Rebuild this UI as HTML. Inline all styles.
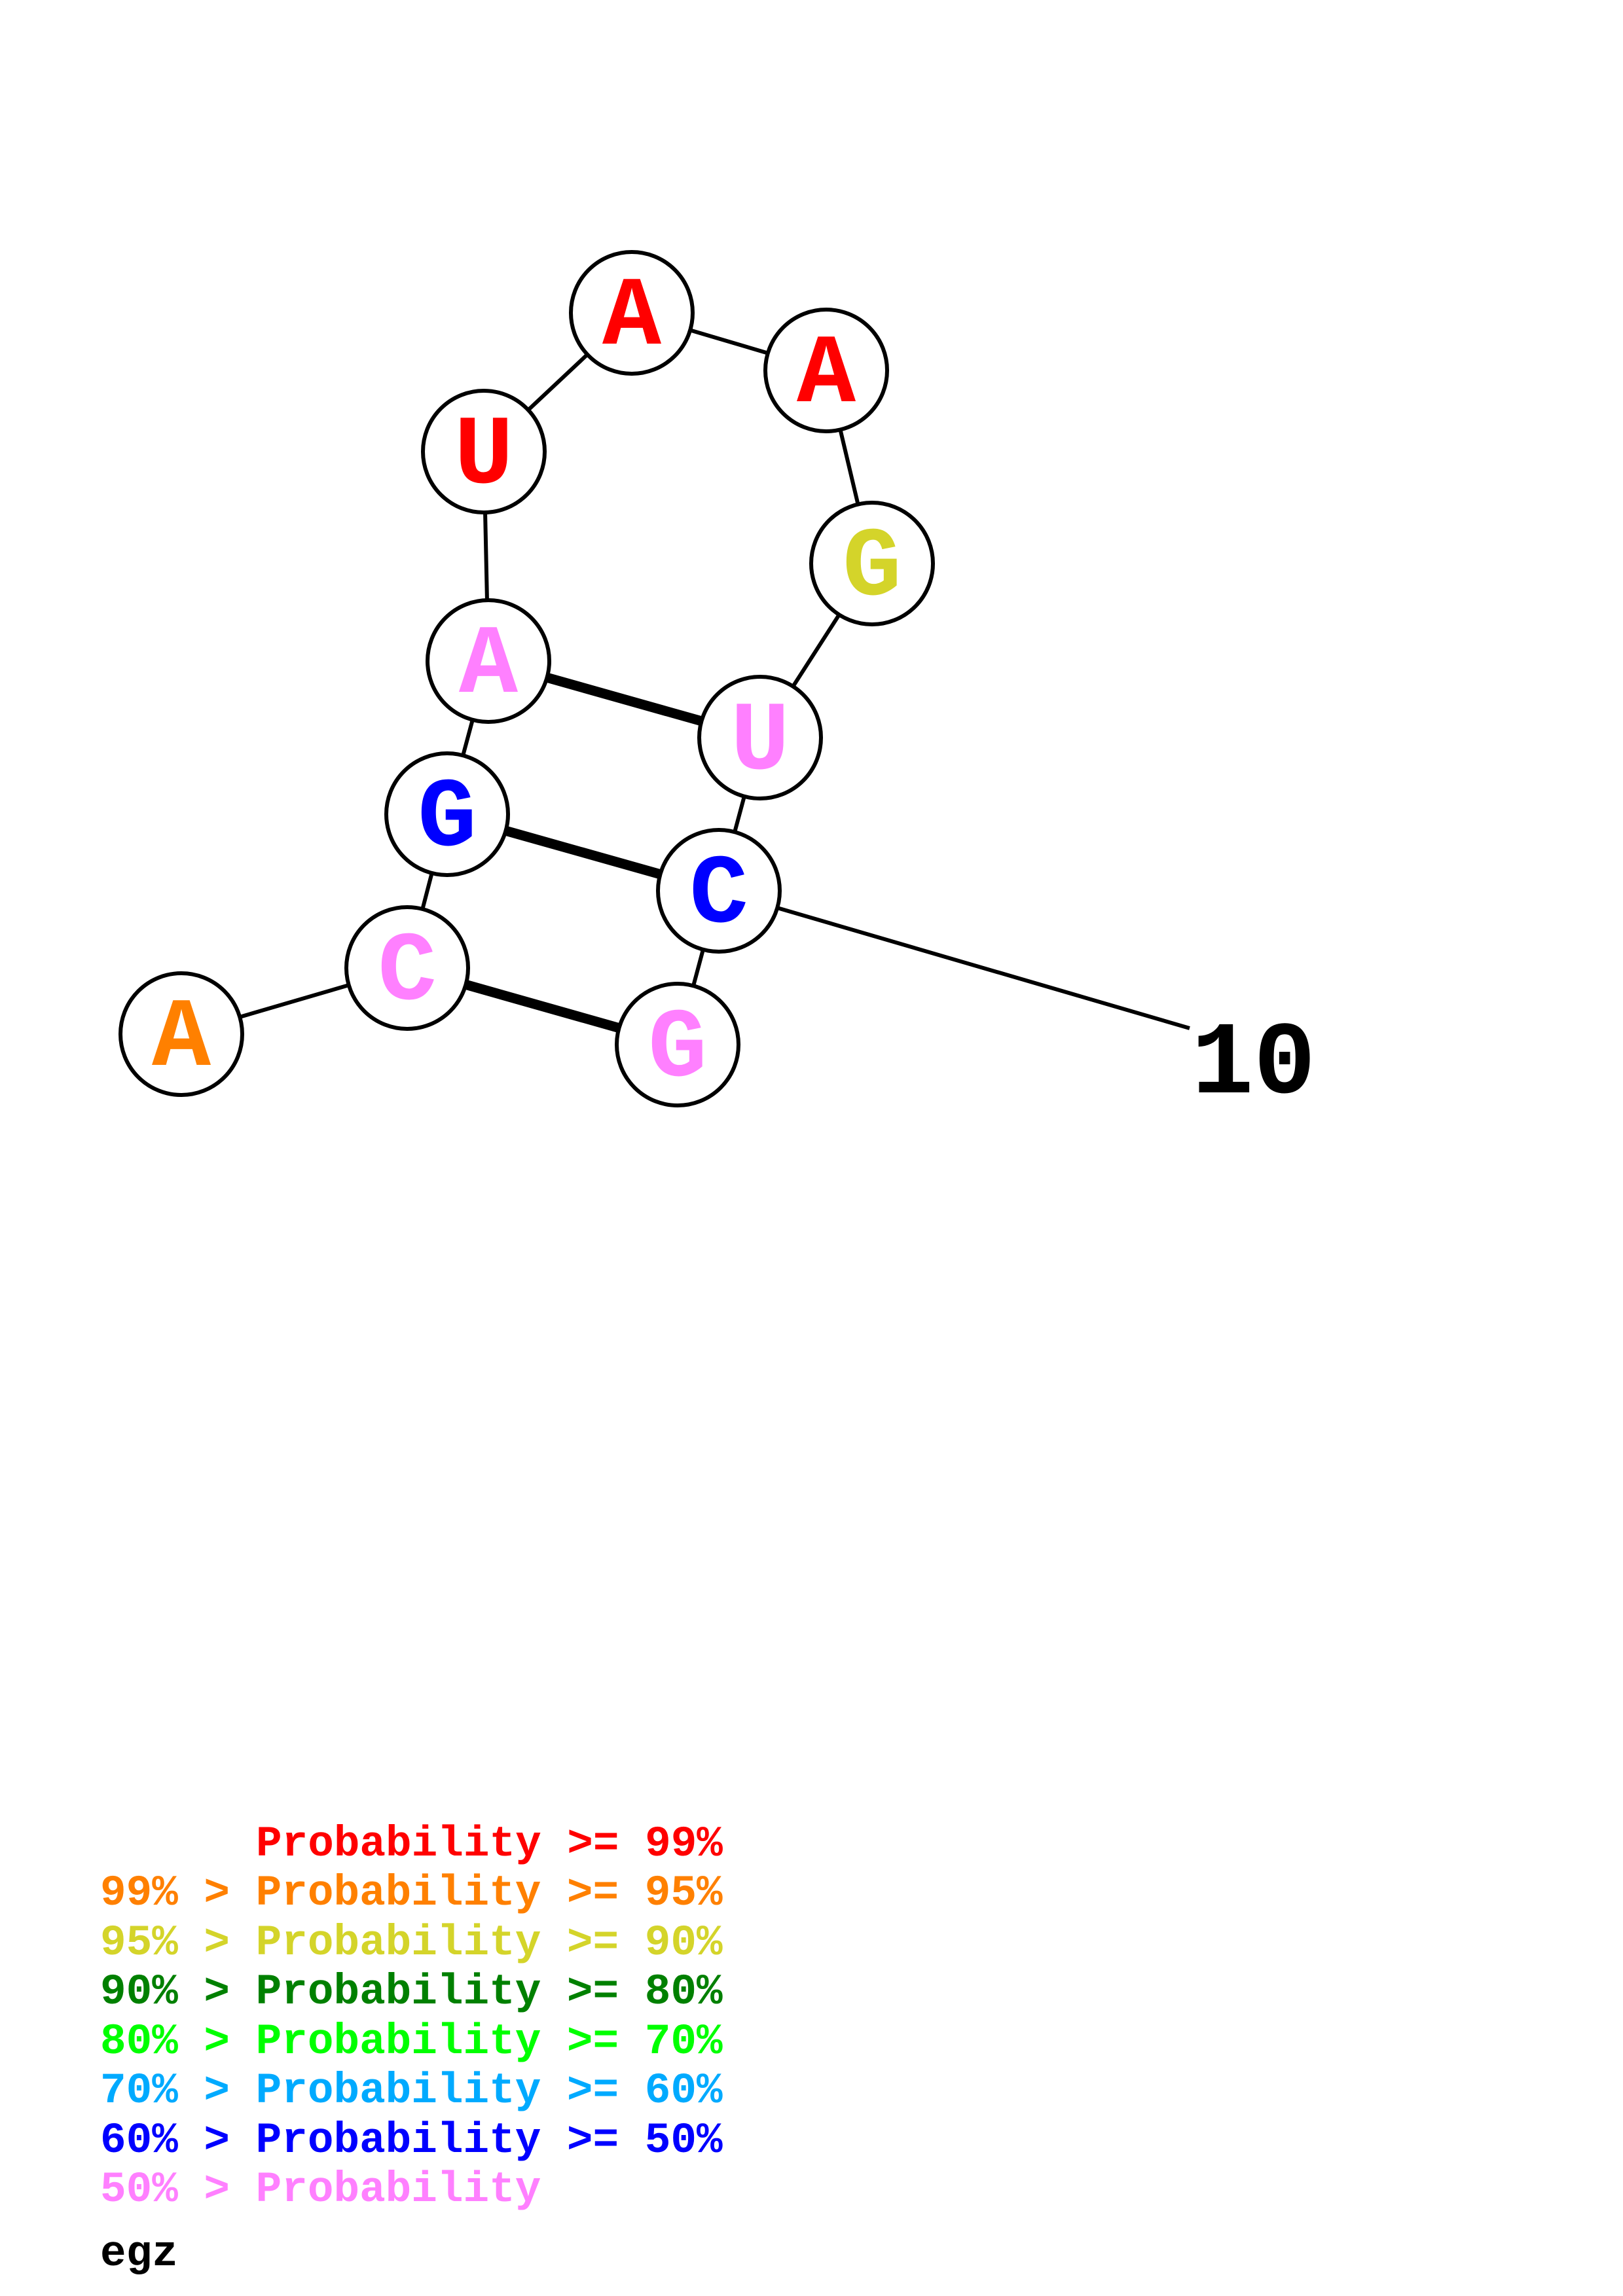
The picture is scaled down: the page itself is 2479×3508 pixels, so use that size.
<!DOCTYPE html>
<html><head><meta charset="utf-8"><style>html,body{margin:0;padding:0;background:#fff}svg{display:block}</style></head>
<body>
<svg width="2479" height="3508" viewBox="0 0 2479 3508" xmlns="http://www.w3.org/2000/svg">
<g transform="translate(-2,-11)">
<g stroke="#000" stroke-width="6">
<line x1="279" y1="1591" x2="624" y2="1490"/>
<line x1="624" y1="1490" x2="685" y2="1255"/>
<line x1="685" y1="1255" x2="748" y2="1021"/>
<line x1="748" y1="1021" x2="741" y2="701"/>
<line x1="741" y1="701" x2="967" y2="489"/>
<line x1="967" y1="489" x2="1264" y2="577"/>
<line x1="1264" y1="577" x2="1334" y2="872"/>
<line x1="1334" y1="872" x2="1163" y2="1138"/>
<line x1="1163" y1="1138" x2="1100" y2="1372"/>
<line x1="1100" y1="1372" x2="1037" y2="1607"/>
<line x1="1100" y1="1372" x2="1819" y2="1582"/>
</g>
<g stroke="#000" stroke-width="15">
<line x1="748" y1="1021" x2="1163" y2="1138"/>
<line x1="685" y1="1255" x2="1100" y2="1372"/>
<line x1="624" y1="1490" x2="1037" y2="1607"/>
</g>
<g fill="#fff" stroke="#000" stroke-width="6">
<circle cx="279" cy="1591" r="93"/><circle cx="624" cy="1490" r="93"/><circle cx="685" cy="1255" r="93"/>
<circle cx="748" cy="1021" r="93"/><circle cx="741" cy="701" r="93"/><circle cx="967" cy="489" r="93"/>
<circle cx="1264" cy="577" r="93"/><circle cx="1334" cy="872" r="93"/><circle cx="1163" cy="1138" r="93"/>
<circle cx="1100" cy="1372" r="93"/><circle cx="1037" cy="1607" r="93"/>
</g>
<g font-family="Liberation Mono, monospace" font-weight="bold" font-size="150" text-anchor="middle">
<text x="279" y="1638" fill="#ff8000">A</text>
<text x="624" y="1537" fill="#ff80ff">C</text>
<text x="685" y="1302" fill="#0000ff">G</text>
<text x="748" y="1068" fill="#ff80ff">A</text>
<text x="741" y="748" fill="#ff0000">U</text>
<text x="967" y="536" fill="#ff0000">A</text>
<text x="1264" y="624" fill="#ff0000">A</text>
<text x="1334" y="919" fill="#d4d42a">G</text>
<text x="1163" y="1185" fill="#ff80ff">U</text>
<text x="1100" y="1419" fill="#0000ff">C</text>
<text x="1037" y="1654" fill="#ff80ff">G</text>
</g>
<text x="1822" y="1680" font-family="Liberation Mono, monospace" font-weight="bold" font-size="158" fill="#000">10</text>
</g>
<g font-family="Liberation Mono, monospace" font-weight="bold" font-size="66">
<text x="391" y="2835" fill="#ff0000">Probability &gt;= 99%</text>
<text x="153" y="2910" fill="#ff8000">99% &gt; Probability &gt;= 95%</text>
<text x="153" y="2986" fill="#d4d42a">95% &gt; Probability &gt;= 90%</text>
<text x="153" y="3061" fill="#008000">90% &gt; Probability &gt;= 80%</text>
<text x="153" y="3137" fill="#00ff00">80% &gt; Probability &gt;= 70%</text>
<text x="153" y="3212" fill="#00aaff">70% &gt; Probability &gt;= 60%</text>
<text x="153" y="3288" fill="#0000ff">60% &gt; Probability &gt;= 50%</text>
<text x="153" y="3363" fill="#ff80ff">50% &gt; Probability</text>
<text x="153" y="3461" fill="#000">egz</text>
</g>
</svg>
</body></html>
